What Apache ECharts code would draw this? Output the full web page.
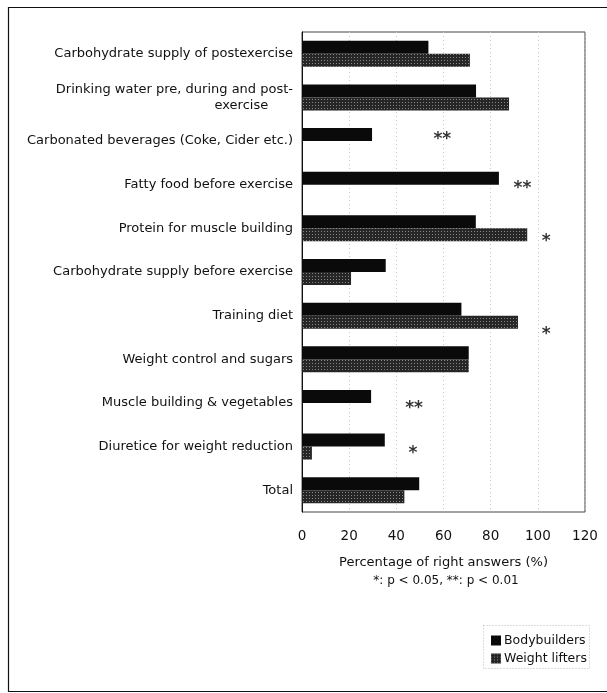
<!DOCTYPE html>
<html>
<head>
<meta charset="utf-8">
<script src="https://cdn.jsdelivr.net/npm/echarts@6/dist/echarts.min.js"></script>
<style>
  html, body { margin: 0; padding: 0; background: #fff; }
  #chart { width: 607px; height: 693px; }
</style>
</head>
<body>
<div id="chart"></div>
<script>
// Nutrition-knowledge questionnaire: share of right answers per item
const categories = [
  'Carbohydrate supply of postexercise',
  'Drinking water pre, during and post-\nexercise      ',
  'Carbonated beverages (Coke, Cider etc.)',
  'Fatty food before exercise',
  'Protein for muscle building',
  'Carbohydrate supply before exercise',
  'Training diet',
  'Weight control and sugars',
  'Muscle building & vegetables',
  'Diuretice for weight reduction',
  'Total'
];
const bodybuilders = [53.6, 73.8, 29.7, 83.5, 73.7, 35.5, 67.6, 70.7, 29.3, 35.1, 49.7];
const weightLifters = [71.2, 87.8, 0, 0, 95.5, 20.8, 91.6, 70.7, 0, 4.2, 43.4];
const xTicks = [0, 20, 40, 60, 80, 100, 120];

// Significance marks: [category index, x position (axis units), text]
const sigMarks = [
  [2, 59.5, '**'],
  [3, 93.5, '**'],
  [4, 103.5, '*'],
  [6, 103.5, '*'],
  [8, 47.5, '**'],
  [9, 47, '*']
];

const FONT = '"DejaVu Sans", sans-serif';
// vertical nudge of each mark relative to the category centre (px)
const sigNudge = { 2: -2, 3: 4, 4: 13, 6: 19, 8: 6, 9: 7 };

const chart = echarts.init(document.getElementById('chart'), null, { renderer: 'canvas' });

chart.setOption({
  animation: false,
  backgroundColor: '#fff',
  textStyle: { fontFamily: FONT, color: '#111' },
  grid: {
    left: 302, right: 22, top: 32, bottom: 181,
    show: true, borderColor: '#444', borderWidth: 1, backgroundColor: 'transparent'
  },
  legend: {
    orient: 'vertical',
    left: 486, top: 629,
    itemWidth: 10, itemHeight: 10, itemGap: 5,
    icon: 'rect',
    data: ['Bodybuilders', 'Weight lifters'],
    textStyle: { fontFamily: FONT, fontSize: 12.5, color: '#111', padding: [0, 0, 0, -2] }
  },
  xAxis: {
    type: 'value',
    min: xTicks[0], max: xTicks[xTicks.length - 1], interval: 20,
    axisLine: { show: false },
    axisTick: { show: false },
    axisLabel: {
      margin: 17, fontSize: 13.5, color: '#111', fontFamily: FONT,
      formatter: v => xTicks.includes(v) ? String(v) : ''
    },
    splitLine: { show: true, lineStyle: { color: '#c8c8c8', type: [1, 3], width: 1 } },
    name: 'Percentage of right answers (%)',
    nameLocation: 'middle',
    nameGap: 44,
    nameTextStyle: { fontSize: 13, color: '#111', fontFamily: FONT }
  },
  yAxis: {
    type: 'category',
    data: categories,
    inverse: true,
    axisLine: { show: true, lineStyle: { color: '#111', width: 1 } },
    axisTick: { show: false },
    axisLabel: {
      margin: 9, fontSize: 13, color: '#111', fontFamily: FONT,
      align: 'right', lineHeight: 16
    },
    splitLine: { show: false }
  },
  series: [
    {
      name: 'Bodybuilders',
      type: 'bar',
      data: bodybuilders,
      barWidth: 13,
      barGap: '0%',
      itemStyle: { color: '#0a0a0a' }
    },
    {
      name: 'Weight lifters',
      type: 'bar',
      data: weightLifters,
      barWidth: 13,
      itemStyle: {
        color: '#262626',
        decal: {
          symbol: 'rect',
          symbolSize: 1,
          dashArrayX: [1, 2],
          dashArrayY: [1, 2],
          color: 'rgba(255,255,255,0.45)'
        }
      }
    },
    {
      name: 'sig',
      type: 'scatter',
      symbolSize: 0,
      silent: true,
      data: sigMarks.map(([ci, x, t]) => ({
        value: [x, categories[ci]],
        label: { show: true, formatter: t, offset: [0, sigNudge[ci] || 0] }
      })),
      label: {
        show: true, position: 'inside',
        fontSize: 17, fontWeight: 'bold', color: '#000', fontFamily: FONT
      }
    }
  ],
  graphic: [
    // outer figure frame
    {
      type: 'rect', silent: true,
      shape: { x: 8.5, y: 7.5, width: 640, height: 684 },
      style: { fill: 'none', stroke: '#111', lineWidth: 1.2 }
    },
    // significance footnote
    {
      type: 'text', silent: true,
      style: {
        x: 446, y: 581,
        text: '*: p < 0.05, **: p < 0.01',
        font: '12px ' + FONT, fill: '#111',
        align: 'center', verticalAlign: 'middle'
      }
    },
    // legend box
    {
      type: 'rect', silent: true,
      shape: { x: 483.5, y: 625.5, width: 106, height: 43 },
      style: { fill: 'none', stroke: '#bbb', lineWidth: 1, lineDash: [1, 2] }
    }
  ]
});
</script>
</body>
</html>
